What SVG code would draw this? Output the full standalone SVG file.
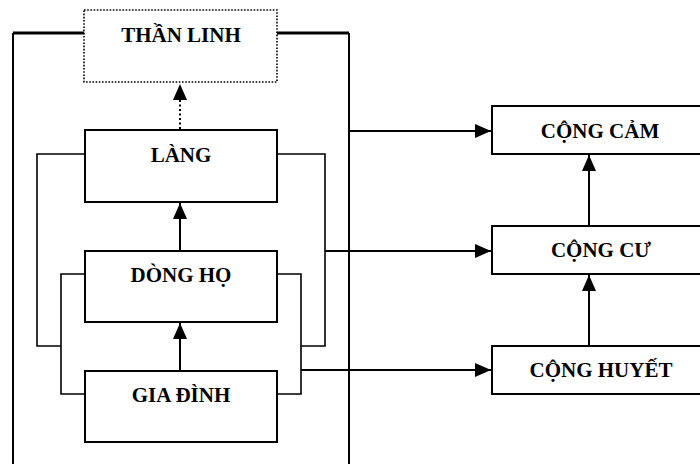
<svg xmlns="http://www.w3.org/2000/svg" width="700" height="464" viewBox="0 0 700 464">
<style>
.box{fill:#fff;stroke:#000;stroke-width:2}
.dot{fill:#fff;stroke:#000;stroke-width:1.6;stroke-dasharray:1.6 1.6}
.lbl{font-family:"Liberation Serif","Times New Roman",serif;font-weight:bold;font-size:21px;text-anchor:middle;fill:#000}
.ln{fill:none;stroke:#000;stroke-width:2}
.thin{fill:none;stroke:#000;stroke-width:1.6}
.thick{fill:none;stroke:#000;stroke-width:3}
</style>
<defs>
<marker id="ah" markerUnits="userSpaceOnUse" markerWidth="16" markerHeight="16" viewBox="0 0 16 16" refX="16" refY="8" orient="auto">
<path d="M0,1 L16,8 L0,15 Z" fill="#000"/>
</marker>
</defs>
<g id="connectors">
<path class="thick" d="M13,33 H84 M277,33 H349"/>
<path class="ln" d="M13,33 V464 M349,33 V464"/>
<path class="thin" d="M85,154 H37 V346 H61 M277,154 H325 V346 H301"/>
<path class="thin" d="M85,274 H61 V394 H85 M277,274 H301 V394 H277"/>
<path class="ln" d="M180,129 V84" stroke-dasharray="2 2.5" marker-end="url(#ah)"/>
<path class="ln" d="M180,251 V203" marker-end="url(#ah)"/>
<path class="ln" d="M180,371 V323" marker-end="url(#ah)"/>
<path class="ln" d="M349,131 H491" marker-end="url(#ah)"/>
<path class="ln" d="M325,251 H491" marker-end="url(#ah)"/>
<path class="ln" d="M301,370 H491" marker-end="url(#ah)"/>
<path class="ln" d="M589,226 V155" marker-end="url(#ah)"/>
<path class="ln" d="M589,346 V275" marker-end="url(#ah)"/>
</g>
<g id="than-linh"><rect class="dot" x="84" y="10" width="193" height="72"/><text class="lbl" x="181" y="42">THẦN LINH</text></g>
<g id="lang"><rect class="box" x="85" y="130" width="192" height="72"/><text class="lbl" x="181" y="162">LÀNG</text></g>
<g id="dong-ho"><rect class="box" x="85" y="251" width="192" height="71"/><text class="lbl" x="181" y="282">DÒNG HỌ</text></g>
<g id="gia-dinh"><rect class="box" x="85" y="371" width="192" height="71"/><text class="lbl" x="181" y="402">GIA ĐÌNH</text></g>
<g id="cong-cam"><rect class="box" x="492" y="106" width="212" height="48"/><text class="lbl" x="600" y="138">CỘNG CẢM</text></g>
<g id="cong-cu"><rect class="box" x="492" y="226" width="212" height="48"/><text class="lbl" x="601" y="257">CỘNG CƯ</text></g>
<g id="cong-huyet"><rect class="box" x="492" y="346" width="212" height="48"/><text class="lbl" x="601" y="377">CỘNG HUYẾT</text></g>
</svg>
